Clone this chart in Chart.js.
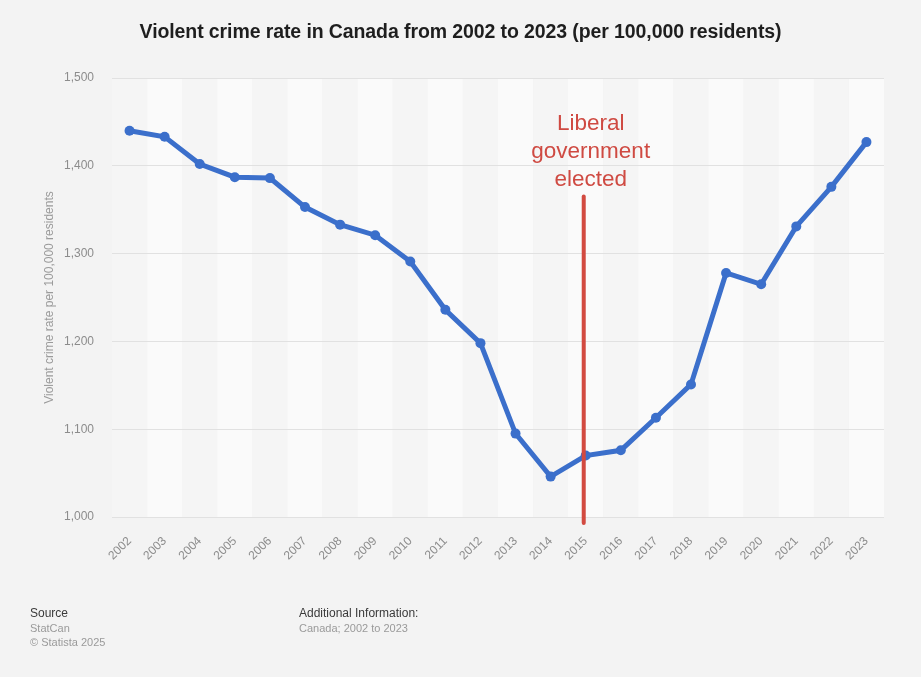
<!DOCTYPE html>
<html>
<head>
<meta charset="utf-8">
<script src="https://cdn.jsdelivr.net/npm/chart.js@4"></script>
<style>
  html, body { margin: 0; padding: 0; background: #f3f3f3; }
  body { width: 921px; height: 677px; position: relative; overflow: hidden;
         font-family: "Liberation Sans", Arial, sans-serif; }
  #wrap { position: absolute; left: 0; top: 0; width: 921px; height: 677px; }
  h1 { position: absolute; top: 20px; left: 0; width: 921px; margin: 0; text-align: center;
       font-size: 19.5px; font-weight: bold; color: #1e1e1e; letter-spacing: -0.1px; }
  .foot { position: absolute; font-size: 11px; line-height: 14.5px; color: #9a9a9a; }
  .foot b { color: #3a3a3a; font-weight: normal; font-size: 12px; }
</style>
</head>
<body>
<div id="wrap"><canvas id="crimeChart"></canvas></div>
<h1>Violent crime rate in Canada from 2002 to 2023 (per 100,000 residents)</h1>
<div class="foot" style="left:30px; top:606px;"><b>Source</b><br>StatCan<br>© Statista 2025</div>
<div class="foot" style="left:299px; top:606px;"><b>Additional Information:</b><br>Canada; 2002 to 2023</div>
<script>
// Dati
const years = ['2002','2003','2004','2005','2006','2007','2008','2009','2010','2011','2012',
               '2013','2014','2015','2016','2017','2018','2019','2020','2021','2022','2023'];
const crimeRate = [1440, 1433, 1402, 1387, 1386, 1353, 1333, 1321, 1291, 1236, 1198,
                   1095, 1046, 1070, 1076, 1113, 1151, 1278, 1265, 1331, 1376, 1427];
const yTicks = [1000, 1100, 1200, 1300, 1400, 1500];

// Annotazione
const markYear = '2015';
const markTop = 1365;
const markLines = ['Liberal', 'government', 'elected'];

// Bande verticali alternate dietro ai dati
const bandsPlugin = {
    id: 'bands',
    beforeDraw(chart) {
        const { ctx, chartArea, scales } = chart;
        const x = scales.x;
        const half = (x.getPixelForValue(1) - x.getPixelForValue(0)) / 2;
        ctx.save();
        years.forEach((y, i) => {
            const c = x.getPixelForValue(i);
            ctx.fillStyle = i % 2 ? '#fafafa' : '#f5f5f5';
            ctx.fillRect(c - half, chartArea.top, half * 2, chartArea.bottom - chartArea.top);
        });
        ctx.restore();
    }
};

// Linea rossa + testo
const markPlugin = {
    id: 'mark',
    afterDatasetsDraw(chart) {
        const { ctx, chartArea, scales } = chart;
        const xp = scales.x.getPixelForValue(years.indexOf(markYear)) - 2;
        const yTop = scales.y.getPixelForValue(markTop);
        ctx.save();
        ctx.strokeStyle = '#d24a40';
        ctx.lineWidth = 4;
        ctx.lineCap = 'round';
        ctx.beginPath();
        ctx.moveTo(xp, yTop);
        ctx.lineTo(xp, chartArea.bottom + 6);
        ctx.stroke();
        ctx.fillStyle = '#cf4a42';
        ctx.font = '22.5px "Liberation Sans", Arial, sans-serif';
        ctx.textAlign = 'center';
        ctx.textBaseline = 'middle';
        markLines.forEach((t, i) => ctx.fillText(t, xp + 7, yTop - 73 + i * 28));
        ctx.restore();
    }
};

const ctx = document.getElementById('crimeChart').getContext('2d');
new Chart(ctx, {
    type: 'line',
    data: {
        labels: years,
        datasets: [{
            data: crimeRate,
            borderColor: '#3b6fcb',
            backgroundColor: '#3b6fcb',
            borderWidth: 5,
            tension: 0,
            pointRadius: 5,
            pointBorderWidth: 0,
            fill: false
        }]
    },
    options: {
        responsive: true,
        maintainAspectRatio: false,
        animation: false,
        layout: { padding: { top: 78, right: 37, bottom: 98, left: 42 } },
        plugins: { legend: { display: false }, tooltip: { enabled: false } },
        scales: {
            x: {
                offset: true,
                grid: { display: false, drawTicks: false },
                border: { display: false },
                ticks: {
                    color: '#8c8c8c',
                    font: { family: '"Liberation Sans", Arial', size: 12 },
                    maxRotation: 45, minRotation: 45, padding: 17, autoSkip: false
                },
                afterFit(axis) { axis.height = 62; }
            },
            y: {
                min: 1000, max: 1500,
                afterBuildTicks(axis) { axis.ticks = yTicks.map(v => ({ value: v })); },
                grid: { color: '#e1e1e1', lineWidth: 1, drawTicks: false },
                border: { display: false },
                ticks: {
                    color: '#8c8c8c',
                    font: { family: '"Liberation Sans", Arial', size: 12 },
                    padding: 18,
                    callback: v => v.toLocaleString('en-US')
                },
                title: {
                    display: true,
                    text: 'Violent crime rate per 100,000 residents',
                    color: '#9a9a9a',
                    font: { family: '"Liberation Sans", Arial', size: 12 },
                    padding: { top: 0, bottom: 0 }
                },
                afterFit(axis) { axis.width = 70; }
            }
        }
    },
    plugins: [bandsPlugin, markPlugin]
});
</script>
</body>
</html>
